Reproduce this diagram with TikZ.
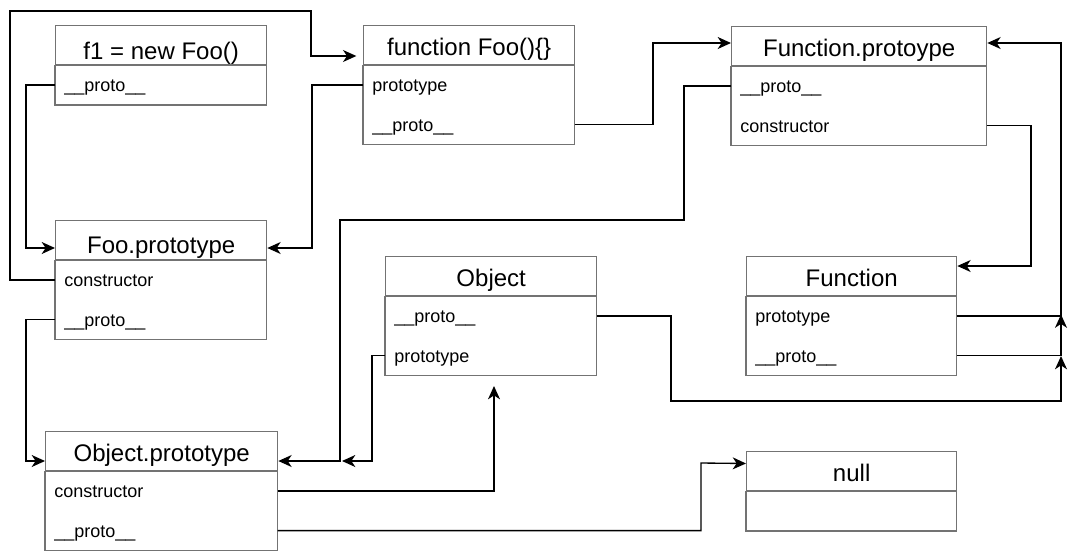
\documentclass[tikz,border=0pt]{standalone}
\usepackage{fontspec}
\setmainfont{Liberation Sans}
\usetikzlibrary{arrows.meta,calc}
\definecolor{boxgray}{RGB}{115,115,115}
\tikzset{
  hdr/.style={draw=boxgray, line width=1pt, anchor=north west, inner sep=0pt,
    minimum height=29.25pt, text height=15.5pt, text depth=0pt,
    font=\fontsize{18}{21}\selectfont},
  row/.style={anchor=north west, inner xsep=6.75pt, inner ysep=0pt,
    minimum height=29.25pt, text height=10pt, text depth=0pt,
    align=left, font=\fontsize{13.5}{16}\selectfont},
  body/.style={draw=boxgray, line width=1pt},
  conn/.style={draw=black, line width=1pt, -{Stealth[length=10pt,width=9pt,inset=3pt]}},
}
\begin{document}
\begin{tikzpicture}[x=0.75pt,y=-0.75pt]
\fill[white] (0,0) rectangle (1074,554);
\useasboundingbox (0,0) rectangle (1074,554);

% f1 = new Foo()
\node[hdr, minimum width=158.25pt, text height=21pt] (f1) at (55,25) {f1 = new Foo()};
\node[row, text width=144.75pt] (f1p) at (f1.south west) {\_\_proto\_\_};
\draw[body] (f1p.north west) rectangle (f1p.south east);

% Foo.prototype
\node[hdr, minimum width=158.25pt, text height=19.5pt] (fp) at (55,220) {Foo.prototype};
\node[row, text width=144.75pt] (fpc) at (fp.south west) {constructor};
\node[row, text width=144.75pt] (fpp) at (fpc.south west) {\_\_proto\_\_};
\draw[body] (fpc.north west) rectangle (fpp.south east);

% function Foo(){}
\node[hdr, minimum width=158.25pt] (ff) at (363,25) {function Foo()\{\}};
\node[row, text width=144.75pt] (ffpt) at (ff.south west) {prototype};
\node[row, text width=144.75pt] (ffp) at (ffpt.south west) {\_\_proto\_\_};
\draw[body] (ffpt.north west) rectangle (ffp.south east);

% Function.protoype
\node[hdr, minimum width=191.25pt] (Fp) at (731,26) {Function.protoype};
\node[row, text width=177.75pt] (Fpp) at (Fp.south west) {\_\_proto\_\_};
\node[row, text width=177.75pt] (Fpc) at (Fpp.south west) {constructor};
\draw[body] (Fpp.north west) rectangle (Fpc.south east);

% Function
\node[hdr, minimum width=157.5pt] (F) at (746,256) {Function};
\node[row, text width=144pt] (Fpt) at (F.south west) {prototype};
\node[row, text width=144pt] (Fpr) at (Fpt.south west) {\_\_proto\_\_};
\draw[body] (Fpt.north west) rectangle (Fpr.south east);

% Object
\node[hdr, minimum width=158.25pt] (O) at (385,256) {Object};
\node[row, text width=144.75pt] (Op) at (O.south west) {\_\_proto\_\_};
\node[row, text width=144.75pt] (Opt) at (Op.south west) {prototype};
\draw[body] (Op.north west) rectangle (Opt.south east);

% Object.prototype
\node[hdr, minimum width=174pt] (OP) at (45,431) {Object.prototype};
\node[row, text width=160.5pt] (OPc) at (OP.south west) {constructor};
\node[row, text width=160.5pt] (OPp) at (OPc.south west) {\_\_proto\_\_};
\draw[body] (OPc.north west) rectangle (OPp.south east);

% null
\node[hdr, minimum width=157.5pt] (N) at (746,451) {null};
\node[row, text width=144pt] (Nr) at (N.south west) {};
\draw[body] (Nr.north west) rectangle (Nr.south east);

% connectors
\draw[conn, shorten >=5pt] (fpc.west) -| (10,11) -| (311,56) -- ($(ff.north west)+(0,31)$);
\draw[conn] (f1p.west) -| (26,248) -- ($(fp.north west)+(0,28)$);
\draw[conn] (ffpt.west) -| (312,248) -- ($(fp.north east)+(0,28)$);
\draw[conn] (ffp.east) -| (653,43) -- ($(Fp.north west)+(0,17)$);
\draw[conn] (Fpp.west) -| (684,220) -| (340,461) -- ($(OP.north east)+(0,30)$);
\coordinate (j1) at (342,461);
\draw[conn] (Opt.west) -| (372,461) -- (j1);
\draw[conn] (fpp.west) -| (26,461) -- ($(OP.north west)+(0,30)$);
\coordinate (j2) at (494,386);
\draw[conn] (OPc.east) -| (j2);
\draw[conn] (OPp.east) -| (701,463) -- ($(N.north west)+(0,12.5)$);
\draw[conn] (Fpc.east) -| (1031,266) -- ($(F.north east)+(0,10)$);
\draw[conn] (Fpt.east) -| (1061,43) -- ($(Fp.north east)+(0,17)$);
\coordinate (j3) at (1061,314.5);
\draw[conn] (Fpr.east) -| (j3);
\coordinate (j4) at (1061,356);
\draw[conn] (Op.east) -| (671,401) -| (j4);
\end{tikzpicture}
\end{document}
